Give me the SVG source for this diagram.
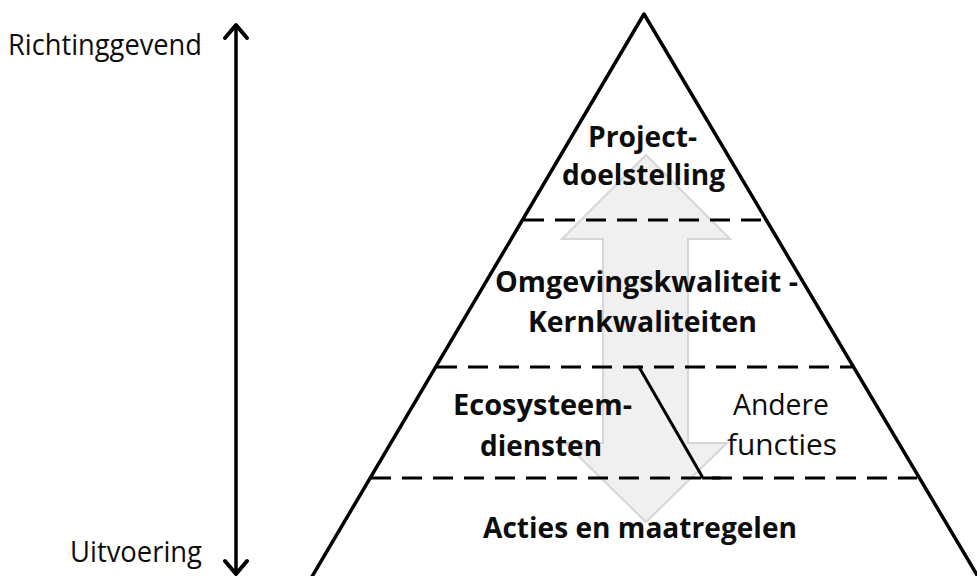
<svg xmlns="http://www.w3.org/2000/svg" width="977" height="576" viewBox="0 0 977 576">
<style>
.t{font-family:"Open Sans","Liberation Sans",sans-serif;font-size:29px;fill:#0d0d0d;}
.b{font-weight:bold;}
.dash{stroke:#000;stroke-width:3;stroke-dasharray:20 11;fill:none;}
.solid{stroke:#000;fill:none;stroke-linecap:round;stroke-linejoin:round;}
</style>
<rect width="977" height="576" fill="#fff"/>
<g id="grey-arrow">
<polygon points="646,155 730,239 688,239 688,443 727,443 646,522 565,443 603,443 603,239 562,239" fill="#f0f0f0" stroke="#d6d6d6" stroke-width="2"/>
</g>
<g id="connectors">
<line class="dash" x1="524" y1="220" x2="767" y2="220"/>
<line class="dash" x1="437" y1="367" x2="852" y2="367"/>
<line class="dash" x1="371" y1="478" x2="917" y2="478"/>
<polyline class="solid" stroke-width="3" points="639,367 703,478 720,478"/>
<line class="solid" stroke-width="3.5" x1="236" y1="27" x2="236" y2="572"/>
<polyline class="solid" stroke-width="4" points="225,38 236,25 247,38"/>
<polyline class="solid" stroke-width="4" points="225,561 236,574 247,561"/>
</g>
<g id="pyramid">
<polyline class="solid" stroke-width="3.5" points="310,580 644,14 980,580"/>
</g>
<g id="labels-left">
<text class="t" x="8" y="55" textLength="194" lengthAdjust="spacingAndGlyphs">Richtinggevend</text>
<text class="t" x="70" y="562" textLength="132" lengthAdjust="spacingAndGlyphs">Uitvoering</text>
</g>
<g id="node-project">
<text class="t b" x="588" y="147" textLength="109" lengthAdjust="spacingAndGlyphs">Project-</text>
<text class="t b" x="562" y="185" textLength="163" lengthAdjust="spacingAndGlyphs">doelstelling</text>
</g>
<g id="node-omgeving">
<text class="t b" x="495" y="292" textLength="303" lengthAdjust="spacingAndGlyphs">Omgevingskwaliteit -</text>
<text class="t b" x="528" y="332" textLength="229" lengthAdjust="spacingAndGlyphs">Kernkwaliteiten</text>
</g>
<g id="node-ecosysteem">
<text class="t b" x="453" y="415" textLength="179" lengthAdjust="spacingAndGlyphs">Ecosysteem-</text>
<text class="t b" x="480" y="456" textLength="122" lengthAdjust="spacingAndGlyphs">diensten</text>
</g>
<g id="node-andere">
<text class="t" x="733" y="415" textLength="96" lengthAdjust="spacingAndGlyphs">Andere</text>
<text class="t" x="727" y="455" textLength="110" lengthAdjust="spacingAndGlyphs">functies</text>
</g>
<g id="node-acties">
<text class="t b" x="483" y="538" textLength="314" lengthAdjust="spacingAndGlyphs">Acties en maatregelen</text>
</g>
</svg>
